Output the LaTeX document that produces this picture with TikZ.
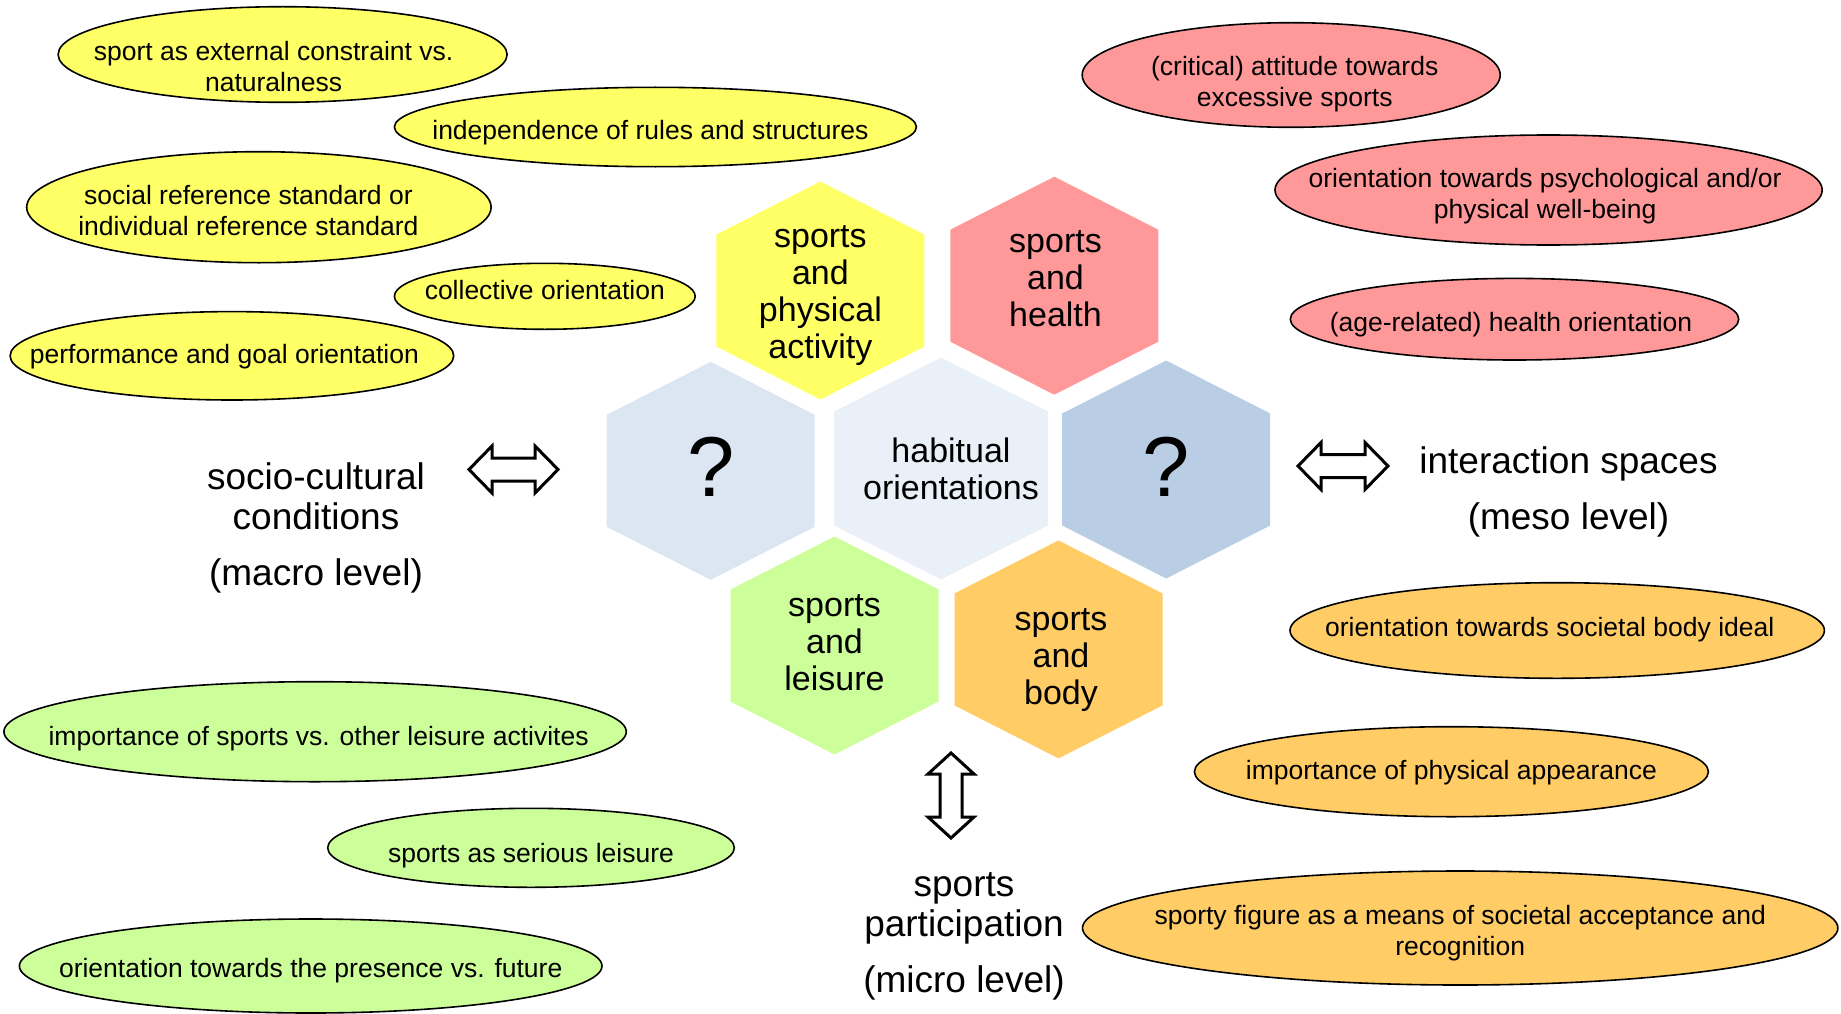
\documentclass[tikz,border=0pt]{standalone}
\usepackage{fontspec}
\setmainfont{Liberation Sans}
\usepackage{tikz}
\usepackage{xcolor}
\usetikzlibrary{arrows.meta}

\definecolor{physyellow}{HTML}{FFFF66}
\definecolor{healthpink}{HTML}{FF9999}
\definecolor{leisuregreen}{HTML}{CCFF99}
\definecolor{bodyorange}{HTML}{FFCC66}
\definecolor{askleftblue}{HTML}{DCE6F2}
\definecolor{habitualblue}{HTML}{EAF0F8}
\definecolor{askrightblue}{HTML}{B9CDE5}

\begin{document}
\begin{tikzpicture}[x=1pt,y=-1pt,
        hexlabel/.style={align=center,font=\fontsize{34}{37}\selectfont},
        asklabel/.style={font=\fontsize{85}{90}\selectfont},
        levellabel/.style={align=center,font=\fontsize{37}{40}\selectfont},
        oval/.style={draw=black,line width=1.6pt},
        ovallabel/.style={align=center,font=\fontsize{26.5}{31}\selectfont},
        blockarrow/.style={draw=black,line width=3pt,fill=white,line join=miter}]
                \useasboundingbox (0,0) rectangle (1841,1014);
                % honeycomb
                \fill[physyellow] (820.4,290.5) +(0,-109) -- +(104,-56) -- +(104,56) -- +(0,109) -- +(-104,56) -- +(-104,-56) -- cycle;
                \fill[healthpink] (1054.3,285.7) +(0,-109) -- +(104,-56) -- +(104,56) -- +(0,109) -- +(-104,56) -- +(-104,-56) -- cycle;
                \fill[askleftblue] (710.7,470.8) +(0,-109) -- +(104,-56) -- +(104,56) -- +(0,109) -- +(-104,56) -- +(-104,-56) -- cycle;
                \fill[habitualblue] (941,468.5) +(0,-111) -- +(107,-57) -- +(107,57) -- +(0,111) -- +(-107,57) -- +(-107,-57) -- cycle;
                \fill[askrightblue] (1166.2,469.5) +(0,-109) -- +(104,-56) -- +(104,56) -- +(0,109) -- +(-104,56) -- +(-104,-56) -- cycle;
                \fill[leisuregreen] (834.5,645.5) +(0,-109) -- +(104,-56) -- +(104,56) -- +(0,109) -- +(-104,56) -- +(-104,-56) -- cycle;
                \fill[bodyorange] (1058.5,649.4) +(0,-109) -- +(104,-56) -- +(104,56) -- +(0,109) -- +(-104,56) -- +(-104,-56) -- cycle;
                \node[hexlabel] (physical) at (820.4,295.5) {sports\\and\\physical\\activity};
                \node[hexlabel] (health) at (1055.5,279) {sports\\and\\health};
                \node[hexlabel] (habitual) at (951,469) {habitual\\orientations};
                \node[hexlabel] (leisure) at (834.5,643) {sports\\and\\leisure};
                \node[hexlabel] (body) at (1061,660) {sports\\and\\body};
                \node[asklabel] (askleft) at (710.7,467) {?};
                \node[asklabel] (askright) at (1166.2,467) {?};
                % levels
                \node[levellabel] (macro) at (316,528) {socio-cultural\\conditions\\[16pt](macro level)};
                \node[levellabel] (meso) at (1568.5,492) {interaction spaces\\[16pt](meso level)};
                \node[levellabel] (micro) at (964,936) {sports\\participation\\[16pt](micro level)};
                \coordinate (macroarrow) at (513.5,469.5);
                \coordinate (mesoarrow) at (1343,466);
                \coordinate (microarrow) at (951,795.5);
                \draw[blockarrow] (macroarrow) ++(-44.5,0) -- ++(23,-23.5) -- ++(0,12) -- ++(43,0) -- ++(0,-12) -- ++(23,23.5) -- ++(-23,23.5) -- ++(0,-12) -- ++(-43,0) -- ++(0,12) -- cycle;
                \draw[blockarrow] (mesoarrow) ++(-45,0) -- ++(23,-23.5) -- ++(0,12) -- ++(44,0) -- ++(0,-12) -- ++(23,23.5) -- ++(-23,23.5) -- ++(0,-12) -- ++(-44,0) -- ++(0,12) -- cycle;
                \draw[blockarrow] (microarrow) ++(0,-42.5) -- ++(23,21) -- ++(-12,0) -- ++(0,43) -- ++(12,0) -- ++(-23,21) -- ++(-23,-21) -- ++(12,0) -- ++(0,-43) -- ++(-12,0) -- cycle;
                % physical activity
                \filldraw[oval,fill=physyellow] (282.6,54.5) ellipse [x radius=224.5,y radius=47.8] node[ovallabel,xshift=-9pt,yshift=-12pt] (constraint) {sport as external constraint vs.\\naturalness};
                \filldraw[oval,fill=physyellow] (655.4,127) ellipse [x radius=261,y radius=39.7] node[ovallabel,xshift=-5pt,yshift=-6pt] (rules) {independence of rules and structures};
                \filldraw[oval,fill=physyellow] (258.9,207.2) ellipse [x radius=232.2,y radius=55.5] node[ovallabel,xshift=-10.5pt,yshift=-3pt] (reference) {social reference standard or\\individual reference standard};
                \filldraw[oval,fill=physyellow] (544.8,296.3) ellipse [x radius=150.4,y radius=33] node[ovallabel,yshift=6pt] (collective) {collective orientation};
                \filldraw[oval,fill=physyellow] (231.9,355.8) ellipse [x radius=221.8,y radius=44.2] node[ovallabel,xshift=-7.5pt,yshift=-1pt] (performance) {performance and goal orientation};
                % health
                \filldraw[oval,fill=healthpink] (1291.2,75) ellipse [x radius=209,y radius=52.3] node[ovallabel,xshift=3.5pt,yshift=-9pt] (excessive) {(critical) attitude towards\\excessive sports};
                \filldraw[oval,fill=healthpink] (1548.6,190) ellipse [x radius=273.6,y radius=55] node[ovallabel,xshift=-3.5pt,yshift=-6.5pt] (wellbeing) {orientation towards psychological and/or\\physical well-being};
                \filldraw[oval,fill=healthpink] (1514.5,319.2) ellipse [x radius=224.2,y radius=40.8] node[ovallabel,xshift=-3.5pt,yshift=-5pt] (agerelated) {(age-related) health orientation};
                % body
                \filldraw[oval,fill=bodyorange] (1557.2,630.5) ellipse [x radius=267.2,y radius=47.8] node[ovallabel,xshift=-7.5pt,yshift=1pt] (ideal) {orientation towards societal body ideal};
                \filldraw[oval,fill=bodyorange] (1451.4,771.7) ellipse [x radius=257,y radius=45] node[ovallabel,yshift=-1pt] (appearance) {importance of physical appearance};
                \filldraw[oval,fill=bodyorange] (1460.2,928) ellipse [x radius=377.7,y radius=57] node[ovallabel,yshift=-5pt] (acceptance) {sporty figure as a means of societal acceptance and\\recognition};
                % leisure
                \filldraw[oval,fill=leisuregreen] (315.1,731.7) ellipse [x radius=311.2,y radius=50] node[ovallabel,xshift=3.5pt,yshift=-7pt] (otherleisure) {importance of sports vs. other leisure activites};
                \filldraw[oval,fill=leisuregreen] (531,847.8) ellipse [x radius=203.3,y radius=39.5] node[ovallabel,yshift=-8pt] (serious) {sports as serious leisure};
                \filldraw[oval,fill=leisuregreen] (310.7,966) ellipse [x radius=291.3,y radius=47] node[ovallabel,yshift=-5pt] (presence) {orientation towards the presence vs. future};
\end{tikzpicture}
\end{document}
